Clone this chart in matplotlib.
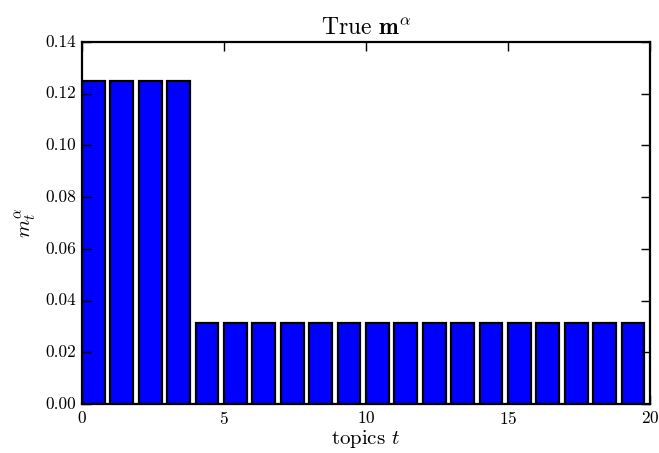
import numpy as np
import matplotlib
matplotlib.use("Agg")
import matplotlib.pyplot as plt

plt.style.use("classic")
plt.rcParams["font.family"] = "serif"
plt.rcParams["font.serif"] = ["cmr10"]
plt.rcParams["mathtext.fontset"] = "cm"
plt.rcParams["axes.formatter.use_mathtext"] = True

topics = np.arange(20)
m_alpha = [0.125] * 4 + [0.03125] * 16

fig = plt.figure(figsize=(6.59, 4.53), dpi=100)
ax = fig.add_axes([82 / 659, 49 / 453, 568 / 659, 362 / 453])
ax.bar(topics, m_alpha, width=0.8, align="edge", color="#0000ff",
       edgecolor="black", linewidth=1.6)
ax.set_xlim(0, 20)
ax.set_ylim(0, 0.14)
ax.set_xticks([0, 5, 10, 15, 20])
yt = np.arange(0, 0.141, 0.02)
ax.set_yticks(yt)
ax.set_yticklabels(["%.2f" % v for v in yt])
ax.tick_params(labelsize=12.5, length=6.5, width=1)
for s in ax.spines.values():
    s.set_linewidth(1.6)
ax.set_title(r"True $\mathbf{m}^{\alpha}$", fontsize=17)
ax.set_xlabel(r"topics $t$", fontsize=15, labelpad=1)
ax.set_ylabel(r"$m_t^{\alpha}$", fontsize=15)

fig.savefig("out.png", dpi=100)
